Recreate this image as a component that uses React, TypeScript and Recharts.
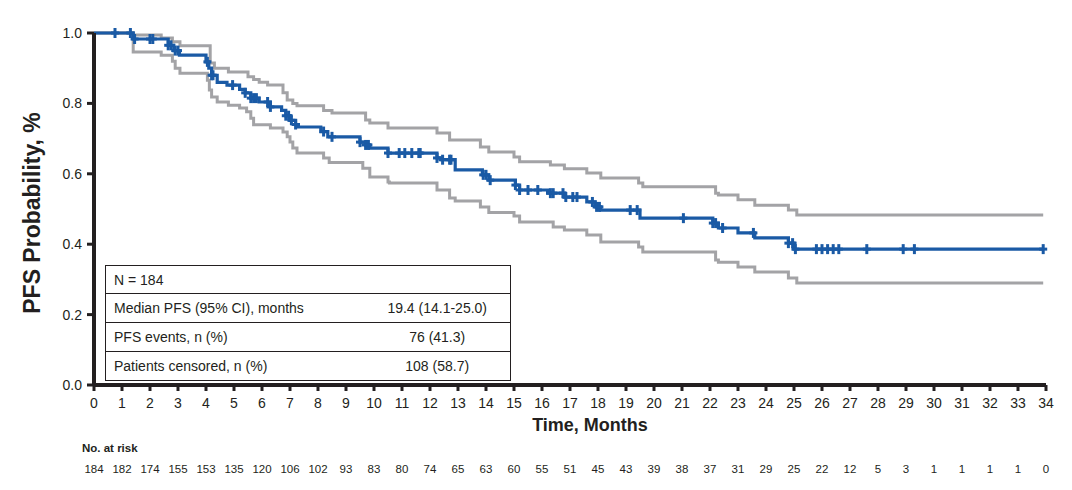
import { ComposedChart, Line, Scatter, XAxis, YAxis } from 'recharts';

const FONT = '"Liberation Sans", Arial, Helvetica, sans-serif';
const INK = '#231f20';
const BLUE = '#1a5aa5';
const GREY = '#a3a3a6';

// month ticks and number at risk under each tick
const monthTicks = [0, 1, 2, 3, 4, 5, 6, 7, 8, 9, 10, 11, 12, 13, 14, 15, 16, 17, 18, 19, 20, 21, 22, 23, 24, 25, 26, 27, 28, 29, 30, 31, 32, 33, 34];
const atRisk = [184, 182, 174, 155, 153, 135, 120, 106, 102, 93, 83, 80, 74, 65, 63, 60, 55, 51, 45, 43, 39, 38, 37, 31, 29, 25, 22, 12, 5, 3, 1, 1, 1, 1, 0];
const probTicks = [0, 0.2, 0.4, 0.6, 0.8, 1.0];

// Kaplan-Meier estimate (step starts)
const kmTimes = [0, 1.4, 2.65, 2.85, 3.05, 4.0, 4.1, 4.2, 4.4, 4.75, 5.2, 5.4, 5.6, 5.9, 6.3, 6.7, 6.85, 7.0, 7.2, 7.3, 8.1, 8.35, 9.5, 9.7, 9.85, 10.5, 12.25, 12.4, 12.9, 13.87, 14.1, 15.05, 15.2, 16.2, 16.8, 17.6, 17.9, 18.1, 19.5, 22.1, 22.3, 23.0, 23.6, 24.8, 25.0, 33.9];
const kmSurv = [1.0, 0.983, 0.965, 0.95, 0.937, 0.918, 0.9, 0.88, 0.86, 0.852, 0.84, 0.83, 0.815, 0.804, 0.79, 0.78, 0.765, 0.752, 0.74, 0.733, 0.72, 0.705, 0.69, 0.682, 0.673, 0.659, 0.645, 0.64, 0.611, 0.597, 0.582, 0.568, 0.554, 0.545, 0.534, 0.52, 0.506, 0.497, 0.474, 0.46, 0.446, 0.432, 0.418, 0.403, 0.386, 0.386];

// upper 95% CI
const upperTimes = [0, 1.4, 2.4, 2.8, 3.07, 4.15, 4.3, 4.8, 5.5, 5.7, 5.9, 6.2, 6.75, 6.9, 7.1, 7.25, 8.2, 8.5, 9.7, 9.85, 10.5, 12.25, 12.7, 13.8, 14.1, 15.0, 15.2, 16.3, 16.8, 17.6, 18.1, 19.45, 19.6, 22.2, 22.3, 23.0, 23.6, 24.8, 25.1, 33.9];
const upperSurv = [1.0, 0.994, 0.986, 0.975, 0.964, 0.915, 0.9, 0.889, 0.876, 0.868, 0.86, 0.852, 0.83, 0.81, 0.8, 0.793, 0.78, 0.773, 0.753, 0.744, 0.73, 0.716, 0.696, 0.676, 0.662, 0.648, 0.634, 0.625, 0.614, 0.602, 0.588, 0.574, 0.563, 0.545, 0.54, 0.526, 0.511, 0.497, 0.483, 0.483];

// lower 95% CI
const lowerTimes = [0, 1.4, 2.4, 2.8, 2.9, 3.07, 4.05, 4.12, 4.2, 4.4, 4.8, 5.2, 5.45, 5.6, 5.7, 6.3, 6.75, 6.9, 7.0, 7.1, 7.25, 8.2, 8.4, 9.6, 9.85, 10.5, 10.55, 12.25, 12.7, 12.9, 13.8, 14.1, 15.0, 15.2, 16.4, 16.8, 17.6, 18.1, 19.45, 19.6, 22.2, 22.3, 23.0, 23.6, 24.8, 25.1, 33.9];
const lowerSurv = [1.0, 0.946, 0.937, 0.92, 0.9, 0.886, 0.866, 0.838, 0.818, 0.804, 0.795, 0.787, 0.776, 0.758, 0.739, 0.73, 0.719, 0.705, 0.69, 0.673, 0.659, 0.645, 0.632, 0.616, 0.591, 0.577, 0.574, 0.554, 0.531, 0.523, 0.506, 0.49, 0.48, 0.463, 0.449, 0.44, 0.426, 0.406, 0.392, 0.378, 0.355, 0.349, 0.335, 0.321, 0.304, 0.29, 0.29];

// censored observations (months)
const censorTimes = [0.75, 1.3, 1.45, 2.0, 2.1, 2.65, 2.75, 2.9, 3.0, 4.05, 4.2, 4.25, 4.95, 5.4, 5.6, 5.7, 5.8, 6.2, 6.3, 6.85, 6.95, 7.05, 7.2, 8.2, 8.5, 9.5, 9.7, 9.8, 10.5, 10.9, 11.1, 11.35, 11.6, 11.65, 12.25, 12.45, 12.7, 12.75, 13.9, 14.0, 14.15, 15.05, 15.2, 15.5, 15.85, 16.3, 16.4, 16.75, 16.85, 17.1, 17.25, 17.8, 17.95, 18.05, 19.15, 19.4, 21.05, 22.1, 22.2, 22.45, 23.55, 24.8, 24.95, 25.05, 25.8, 26.0, 26.2, 26.4, 26.6, 27.6, 28.9, 29.3, 33.9];

const toSteps = (times: number[], surv: number[]) => times.map((t, i) => ({ t, s: surv[i] }));

const kmData = toSteps(kmTimes, kmSurv);
const upperData = toSteps(upperTimes, upperSurv);
const lowerData = toSteps(lowerTimes, lowerSurv);

// value of the KM curve at a given time
const kmAt = (t: number) => {
    let s = kmSurv[0];
    kmTimes.forEach((kt, i) => { if (kt <= t) s = kmSurv[i]; });
    return s;
};
const censorData = censorTimes.map((t) => ({ t, s: kmAt(t) }));

const CensorMark = (props: any) => {
    const { cx, cy } = props;
    if (cx == null || cy == null) return null;
    return (
        <g stroke={BLUE} strokeWidth={3}>
            <line x1={cx} x2={cx} y1={cy - 5} y2={cy + 5} />
            <line x1={cx - 4} x2={cx + 4} y1={cy} y2={cy} />
        </g>
    );
};

// month label plus the number at risk underneath it
const TimeTick = (props: any) => {
    const { x, y, payload } = props;
    const i = monthTicks.indexOf(payload.value);
    return (
        <g fontFamily={FONT} fill={INK}>
            <text x={x} y={y} dy={10} textAnchor="middle" fontSize={14}>{payload.value}</text>
            <text x={x} y={y} dy={75} textAnchor="middle" fontSize={11.5}>{atRisk[i]}</text>
        </g>
    );
};

const tableRows = [
    { label: 'N = 184', value: '' },
    { label: 'Median PFS (95% CI), months', value: '19.4 (14.1-25.0)' },
    { label: 'PFS events, n (%)', value: '76 (41.3)' },
    { label: 'Patients censored, n (%)', value: '108 (58.7)' },
];
const rowHeights = [27, 28, 28, 28];

export default function App() {
    return (
        <div style={{ position: 'absolute', left: 0, top: 0, width: 1072, height: 490, background: '#fff', fontFamily: FONT, color: INK }}>
            <ComposedChart width={1072} height={490} margin={{ top: 33, right: 26, left: 0, bottom: 0 }}>
                <XAxis
                    xAxisId="t"
                    dataKey="t"
                    type="number"
                    domain={[0, 34]}
                    ticks={monthTicks}
                    interval={0}
                    height={105}
                    axisLine={{ stroke: INK, strokeWidth: 4 }}
                    tickLine={{ stroke: INK, strokeWidth: 3 }}
                    tickSize={6}
                    tickMargin={7}
                    tick={<TimeTick />}
                />
                <YAxis
                    yAxisId="p"
                    dataKey="s"
                    type="number"
                    domain={[0, 1]}
                    ticks={probTicks}
                    interval={0}
                    width={94}
                    axisLine={{ stroke: INK, strokeWidth: 4 }}
                    tickLine={{ stroke: INK, strokeWidth: 3 }}
                    tickSize={7}
                    tickMargin={5}
                    tickFormatter={(v: number) => v.toFixed(1)}
                    tick={{ fill: INK, fontSize: 14, fontFamily: FONT }}
                />
                <Line xAxisId="t" yAxisId="p" data={upperData} dataKey="s" type="stepAfter" stroke={GREY} strokeWidth={3} dot={false} isAnimationActive={false} />
                <Line xAxisId="t" yAxisId="p" data={lowerData} dataKey="s" type="stepAfter" stroke={GREY} strokeWidth={3} dot={false} isAnimationActive={false} />
                <Line xAxisId="t" yAxisId="p" data={kmData} dataKey="s" type="stepAfter" stroke={BLUE} strokeWidth={3.2} dot={false} isAnimationActive={false} />
                <Scatter xAxisId="t" yAxisId="p" data={censorData} dataKey="s" shape={CensorMark} isAnimationActive={false} />
            </ComposedChart>

            {/* axis titles */}
            <div style={{ position: 'absolute', left: 32, top: 213, transform: 'translate(-50%, -50%) rotate(-90deg)', whiteSpace: 'nowrap', fontSize: 23, fontWeight: 'bold' }}>
                PFS Probability, %
            </div>
            <div style={{ position: 'absolute', left: 590, top: 425, transform: 'translate(-50%, -50%)', whiteSpace: 'nowrap', fontSize: 18, fontWeight: 'bold' }}>
                Time, Months
            </div>
            <div style={{ position: 'absolute', left: 82, top: 448, transform: 'translateY(-50%)', whiteSpace: 'nowrap', fontSize: 11.5, fontWeight: 'bold' }}>
                No. at risk
            </div>

            {/* summary table */}
            <div style={{ position: 'absolute', left: 105, top: 265, width: 404, border: `1px solid ${INK}`, background: '#fff', fontSize: 14 }}>
                {tableRows.map((r, i) => (
                    <div key={r.label} style={{ display: 'flex', alignItems: 'center', height: rowHeights[i], borderTop: i === 0 ? 'none' : `1px solid ${INK}` }}>
                        <div style={{ width: 258, paddingLeft: 8, whiteSpace: 'nowrap' }}>{r.label}</div>
                        <div style={{ width: 150, textAlign: 'center', whiteSpace: 'nowrap' }}>{r.value}</div>
                    </div>
                ))}
            </div>
        </div>
    );
}
